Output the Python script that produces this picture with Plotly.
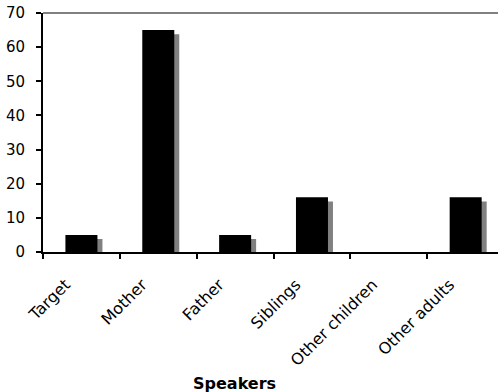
import plotly.graph_objects as go

# Number of utterances by speaker
speakers = ["Target", "Mother", "Father", "Siblings", "Other children", "Other adults"]
counts = [5, 65, 5, 16, 0, 16]

SHADOW_DROP = 1.2  # shadow sits slightly lower than its bar

W, H = 498, 392
L, T, B = 43, 13, 140
plot_w = W - L
cat_px = 76.85
x_max = -0.5 + plot_w / cat_px

bar_w = 32 / cat_px
shadow_dx = 5 / cat_px

fig = go.Figure()

# drop shadow behind each bar
fig.add_trace(go.Bar(
    x=speakers, y=counts, base=[-SHADOW_DROP] * len(counts),
    width=bar_w, offset=-bar_w / 2 + shadow_dx,
    marker=dict(color="#808080", line=dict(width=0)),
    hoverinfo="skip", showlegend=False,
))
fig.add_trace(go.Bar(
    x=speakers, y=counts,
    width=bar_w, offset=-bar_w / 2,
    marker=dict(color="#000000", line=dict(width=0)),
    showlegend=False,
))

font_family = "Verdana, DejaVu Sans, sans-serif"

fig.update_layout(
    width=W, height=H,
    margin=dict(l=L, r=0, t=T, b=B, pad=0),
    paper_bgcolor="white", plot_bgcolor="white",
    barmode="overlay",
    font=dict(family=font_family, size=15, color="#000000"),
    xaxis=dict(
        type="category", range=[-0.5, x_max],
        showline=True, linecolor="black", linewidth=2,
        ticks="outside", ticklen=5, tickwidth=1.5, tickcolor="black",
        tickson="boundaries", tickangle=-45,
        ticklabelshift=-16, ticklabelstandoff=15,
        showgrid=False, zeroline=False, automargin=False,
        tickfont=dict(size=16),
    ),
    yaxis=dict(
        range=[0, 70], dtick=10,
        showline=True, linecolor="black", linewidth=2,
        ticks="outside", ticklen=5, tickwidth=1.5, tickcolor="black",
        ticklabelstandoff=8,
        showgrid=False, zeroline=False, automargin=False,
        tickfont=dict(size=15),
    ),
    shapes=[dict(type="line", xref="paper", yref="paper",
                 x0=0, x1=1, y0=1, y1=1,
                 line=dict(color="#808080", width=2))],
    annotations=[dict(
        text="<b>Speakers</b>", xref="paper", yref="paper",
        x=(234 - L) / plot_w, y=-(383 - (H - B)) / (H - T - B),
        xanchor="center", yanchor="middle", showarrow=False,
        font=dict(size=16, family=font_family),
    )],
)

fig.write_html("out.html")
